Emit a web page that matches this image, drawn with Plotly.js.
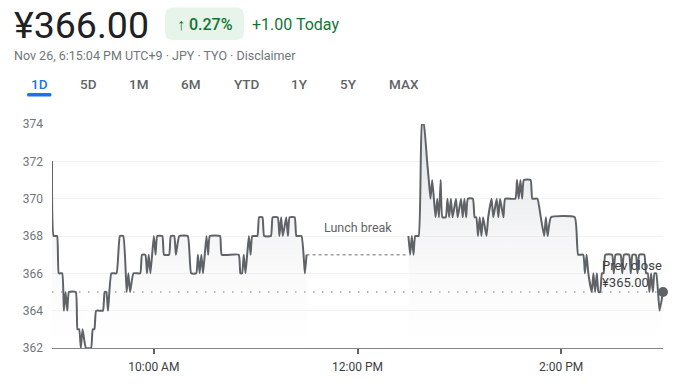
<!DOCTYPE html>
<html><head><meta charset="utf-8">
<script src="https://cdn.plot.ly/plotly-3.0.1.min.js"></script>
<style>html,body{margin:0;padding:0;background:#fff;}#chart{width:678px;height:392px;}</style>
</head><body><div id="chart"></div>
<script>
const DAY = '2024-11-26 ';
const morningTimes = ['09:00','09:01','09:03','09:04','09:06','09:07','09:08','09:09','09:10','09:14','09:15','09:16','09:17','09:18','09:20','09:23','09:24','09:25','09:26','09:30','09:31','09:32','09:33','09:35','09:38','09:40','09:42','09:44','09:45','09:46','09:48','09:52','09:53','09:55','09:56','09:57','09:58','10:00','10:01','10:02','10:05','10:06','10:09','10:10','10:12','10:13','10:15','10:20','10:22','10:25','10:26','10:27','10:28','10:29','10:31','10:32','10:33','10:39','10:40','10:50','10:51','10:52','10:53','10:54','10:55','10:56','10:57','10:58','11:01','11:02','11:04','11:05','11:09','11:10','11:13','11:14','11:15','11:16','11:18','11:19','11:20','11:23','11:24','11:27','11:29','11:30'];
const morningPrices = [372,368,368,366,366,364,365,364,365,365,363,363,362,363,362,362,363,363,364,364,365,365,364,366,366,368,368,365,366,365,366,366,367,367,366,367,366,368,367,368,368,367,367,368,368,367,368,368,366,366,367,366,367,366,368,367,368,368,367,367,366,366,367,366,367,368,367,368,368,369,369,368,368,369,369,368,369,368,369,368,369,369,368,368,366,367];
const afternoonTimes = ['12:30','12:31','12:32','12:33','12:34','12:36','12:38','12:39','12:41','12:42','12:43','12:44','12:45','12:46','12:47','12:48','12:49','12:50','12:52','12:53','12:54','12:55','12:56','12:58','12:59','13:01','13:02','13:03','13:04','13:05','13:08','13:09','13:10','13:11','13:12','13:13','13:14','13:16','13:17','13:19','13:20','13:22','13:23','13:24','13:26','13:27','13:33','13:34','13:35','13:36','13:37','13:38','13:42','13:43','13:46','13:48','13:50','13:51','13:52','13:54','14:08','14:10','14:13','14:14','14:15','14:16','14:18','14:19','14:20','14:21','14:22','14:23','14:24','14:25','14:26','14:30','14:31','14:32','14:35','14:36','14:37','14:40','14:41','14:42','14:44','14:45','14:46','14:49','14:50','14:51','14:52','14:53','14:54','14:55','14:56','14:58','15:00'];
const afternoonPrices = [368,367,368,367,368,368,374,374,372,371,370,371,370,369,370,369,371,369,369,370,369,370,369,370,369,370,369,370,369,370,370,369,369,368,369,368,369,368,369,370,369,370,369,370,369,370,370,371,370,371,370,371,371,370,370,369,368,369,368,369,369,367,367,366,367,366,365,366,365,366,365,365,366,366,367,367,366,367,367,366,367,367,366,367,367,366,367,367,366,366,365,366,365,366,366,364,365];
const prevClose = 365;
const yTicks = [362,364,366,368,370,372,374];
const xTickTimes = ['10:00','12:00','14:00'];
const xTickLabels = ['10:00 AM','12:00 PM','2:00 PM'];
const sessionStart = '09:00', sessionEnd = '15:00';
const tabs = ['1D','5D','1M','6M','YTD','1Y','5Y','MAX'];
const tabCenters = [39,88,138.5,190,246.5,299.5,348,404];

const FONT = 'Roboto, Arial, sans-serif';
const L = 52, R = 15, T = 124, B = 44, W = 678, H = 392;
const pw = W - L - R, ph = H - T - B;
const xp = px => (px - L) / pw;
const yp = py => (H - B - py) / ph;
const full = t => DAY + t;

const grad = {type:'vertical', start:362, stop:374,
  colorscale:[[0,'rgba(230,232,234,0)'],[0.1,'rgba(230,232,234,0.05)'],[1,'rgba(200,203,207,0.55)']]};
const lineStyle = {color:'#5f6368', width:2, shape:'spline', smoothing:0.4};

const traces = [
  {x: morningTimes.map(full), y: morningPrices, type:'scatter', mode:'lines', line: lineStyle,
   fill:'tozeroy', fillgradient: grad, hoverinfo:'skip'},
  {x: afternoonTimes.map(full), y: afternoonPrices, type:'scatter', mode:'lines', line: lineStyle,
   fill:'tozeroy', fillgradient: grad, hoverinfo:'skip'},
  {x: [full(afternoonTimes[afternoonTimes.length-1])], y: [afternoonPrices[afternoonPrices.length-1]],
   type:'scatter', mode:'markers', marker:{size:10, color:'#5f6368'}, cliponaxis:false, hoverinfo:'skip'}
];

function roundRect(x0,y0,x1,y1,r){
  const P = (a,b) => xp(a)+','+yp(b);
  return 'M'+P(x0+r,y0)+' L'+P(x1-r,y0)+' Q'+P(x1,y0)+' '+P(x1,y0+r)+' L'+P(x1,y1-r)+' Q'+P(x1,y1)+' '+P(x1-r,y1)+
    ' L'+P(x0+r,y1)+' Q'+P(x0,y1)+' '+P(x0,y1-r)+' L'+P(x0,y0+r)+' Q'+P(x0,y0)+' '+P(x0+r,y0)+' Z';
}

const shapes = [
  {type:'line', xref:'x', yref:'y', x0: full(sessionStart), x1: full(sessionEnd), y0: prevClose, y1: prevClose,
   line:{color:'#9aa0a6', width:1.5, dash:'1.5px,7.5px'}, layer:'below'},
  {type:'line', xref:'x', yref:'y', x0: full(morningTimes[morningTimes.length-1]), x1: full(afternoonTimes[0]),
   y0: morningPrices[morningPrices.length-1], y1: morningPrices[morningPrices.length-1],
   line:{color:'#9aa0a6', width:1.5, dash:'3px,3px'}, layer:'below'},
  {type:'path', xref:'paper', yref:'paper', path: roundRect(165,7.5,244,40,8), fillcolor:'#e6f4ea', line:{width:0}},
  {type:'path', xref:'paper', yref:'paper', path: roundRect(27,93,51.5,96.5,1.5), fillcolor:'#1a73e8', line:{width:0}}
];

const annotations = [
  {text:'¥366.00', x: xp(12), y: yp(25), xanchor:'left', yanchor:'middle', font:{family:FONT, size:37.5, color:'#202124'}},
  {text:'↑ 0.27%', x: xp(204.5), y: yp(24), xanchor:'center', yanchor:'middle', font:{family:FONT, size:16, weight:500, color:'#137333'}},
  {text:'+1.00 Today', x: xp(250), y: yp(24), xanchor:'left', yanchor:'middle', font:{family:FONT, size:16, color:'#137333', weight:400}},
  {text:'Nov 26, 6:15:04 PM UTC+9 · JPY · TYO · Disclaimer', x: xp(12), y: yp(55.5), xanchor:'left', yanchor:'middle',
   font:{family:FONT, size:12.5, color:'#70757a'}},
  {text:'Lunch break', x: full('12:00'), y: 368.45, xref:'x', yref:'y', xanchor:'center', yanchor:'middle',
   font:{family:FONT, size:12.5, color:'#5f6368'}},
  {text:'Prev close<br>¥365.00', x: xp(600), y: 365.95, yref:'y', xanchor:'left', yanchor:'middle', align:'left',
   font:{family:FONT, size:13, color:'#3c4043'}}
];
tabs.forEach((t,i) => annotations.push({text:t, x: xp(tabCenters[i]), y: yp(84), xanchor:'center', yanchor:'middle',
  font:{family:FONT, size:13.5, weight:500, color: i===0 ? '#1a73e8' : '#5f6368'}}));
annotations.forEach(a => { if(!a.xref) a.xref='paper'; if(!a.yref) a.yref='paper'; a.showarrow=false; });

const layout = {
  width: W, height: H, margin:{l:L, r:R, t:T, b:B, pad:0},
  paper_bgcolor:'#fff', plot_bgcolor:'#fff', showlegend:false, hovermode:false,
  font:{family:FONT},
  xaxis:{type:'date', range:[full(sessionStart), full(sessionEnd)], tickvals: xTickTimes.map(full), ticktext: xTickLabels,
    showgrid:false, zeroline:false, showline:true, linecolor:'#80868b', linewidth:1,
    ticks:'outside', ticklen:5, tickwidth:2, tickcolor:'#5f6368', ticklabelstandoff:3,
    tickfont:{family:FONT, size:12, color:'#3c4043'}},
  yaxis:{range:[362,374], tickvals: yTicks, showgrid:true, gridcolor:'#f1f3f4', gridwidth:1, zeroline:false,
    showline:false, ticks:'', ticklabelstandoff:8, tickfont:{family:FONT, size:12, color:'#70757a'}},
  shapes, annotations
};
Plotly.newPlot('chart', traces, layout, {staticPlot:true, displayModeBar:false});
</script></body></html>
